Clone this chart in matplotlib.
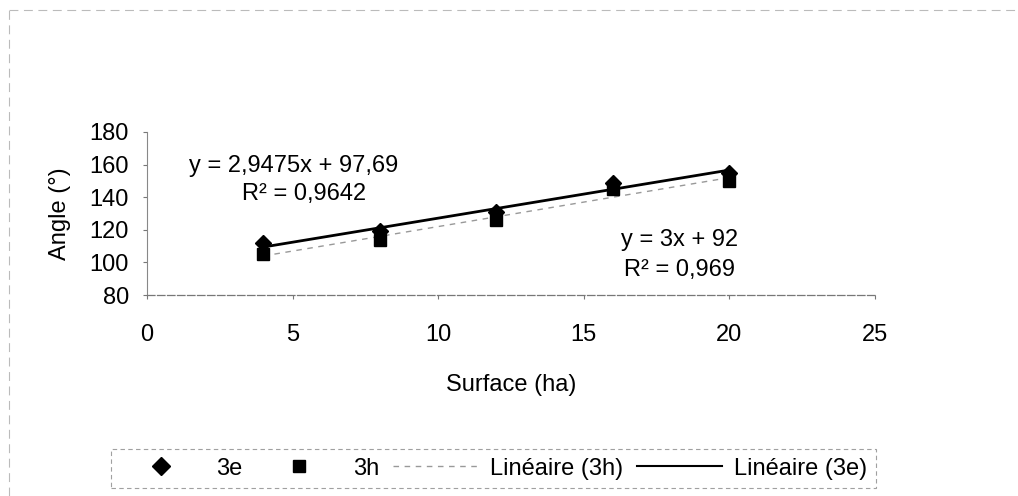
import numpy as np
import matplotlib
matplotlib.use("Agg")
from matplotlib import pyplot as plt
from matplotlib.lines import Line2D

plt.rcParams['font.family'] = ['Liberation Sans', 'DejaVu Sans']

# surface (ha)
surface = [4, 8, 12, 16, 20]
# angle (degrees)
angle_3e = [112, 119, 131, 149, 155]
angle_3h = [105, 114, 126, 145, 150]

# trend line coefficients as printed on the chart
fit_3e = [2.9475, 97.69]
fit_3h = [3.0, 92.0]
eq_3e = ["y = 2,9475x + 97,69", "R² = 0,9642"]
eq_3h = ["y = 3x + 92", "R² = 0,969"]

FS = 17

fig = plt.figure(figsize=(10.18, 4.96), dpi=100)
ax = fig.add_axes([0.1444, 0.405, 0.715, 0.329])

ax.plot(surface, angle_3e, ls='none', marker='D', markersize=8.5, color='black', zorder=3)
ax.plot(surface, angle_3h, ls='none', marker='s', markersize=8, color='black', zorder=3)

xs = np.array([surface[0], surface[-1]])
ax.plot(xs, fit_3h[0] * xs + fit_3h[1], color='#999999', lw=1, ls=(0, (4, 4)), zorder=2)
ax.plot(xs, fit_3e[0] * xs + fit_3e[1], color='black', lw=2, zorder=4)

#equations
ax.text(5.05, 155.5, eq_3e[0], ha='center', va='baseline', fontsize=FS)
ax.text(5.4, 138.3, eq_3e[1], ha='center', va='baseline', fontsize=FS)
ax.text(18.3, 110.0, eq_3h[0], ha='center', va='baseline', fontsize=FS)
ax.text(18.3, 91.7, eq_3h[1], ha='center', va='baseline', fontsize=FS)

ax.set_xlim(0, 25)
ax.set_ylim(80, 180)
ax.set_xticks([0, 5, 10, 15, 20, 25])
ax.set_yticks([80, 100, 120, 140, 160, 180])
ax.tick_params(labelsize=FS, length=3, width=0.8, color='#777777')
ax.tick_params(axis='y', pad=10)
ax.tick_params(axis='x', pad=18)
ax.set_xlabel("Surface (ha)", fontsize=FS, labelpad=20)
ax.set_ylabel("Angle (°)", fontsize=FS, labelpad=13)

for side in ['top', 'right']:
    ax.spines[side].set_visible(False)
ax.spines['left'].set_color('#888888')
ax.spines['left'].set_linewidth(0.8)
ax.spines['bottom'].set_color('#777777')
ax.spines['bottom'].set_linewidth(0.9)
ax.spines['bottom'].set_linestyle((0, (6, 2)))

handles = [
    Line2D([], [], marker='D', color='black', ls='none', markersize=9),
    Line2D([], [], marker='s', color='black', ls='none', markersize=9),
    Line2D([], [], color='#999999', lw=1, ls=(0, (4, 4))),
    Line2D([], [], color='black', lw=1.5),
]
labels = ["3e", "3h", "Linéaire (3h)", "Linéaire (3e)"]
leg = fig.legend(handles, labels, loc='center', bbox_to_anchor=(0.4843, 0.055),
                 ncol=4, fontsize=FS, frameon=True, fancybox=False,
                 handlelength=3.6, columnspacing=0.6, handletextpad=0.5,
                 borderpad=0.35, borderaxespad=0)
frame = leg.get_frame()
frame.set_edgecolor('#888888')
frame.set_linestyle((0, (4, 3)))
frame.set_linewidth(0.8)

# faint dashed outer border (top and left edges visible)
fig.lines.append(Line2D([0.009, 1.0], [0.98, 0.98], transform=fig.transFigure,
                        color='#bbbbbb', lw=0.8, ls=(0, (8, 5))))
fig.lines.append(Line2D([0.009, 0.009], [0.0, 0.98], transform=fig.transFigure,
                        color='#bbbbbb', lw=0.8, ls=(0, (8, 5))))

fig.savefig("out.png", dpi=100)
